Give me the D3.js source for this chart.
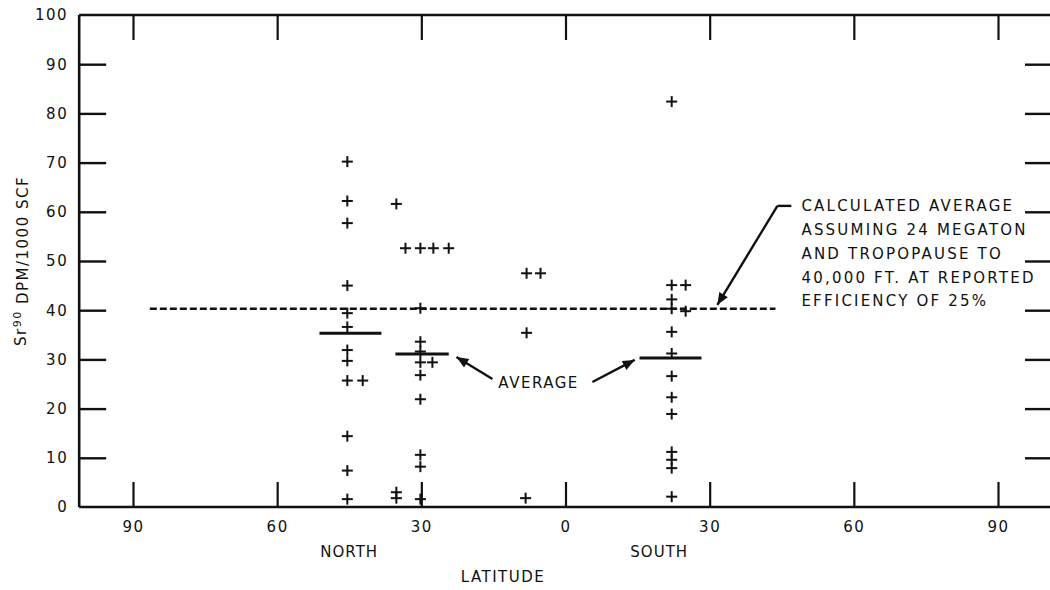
<!DOCTYPE html>
<html>
<head>
<meta charset="utf-8">
<script src="https://cdn.jsdelivr.net/npm/d3@7"></script>
<style>
  html, body { margin: 0; padding: 0; background: #fff; }
  svg { display: block; }
  text { font-family: "DejaVu Sans", sans-serif; fill: #111; }
</style>
</head>
<body>
<svg id="chart" width="1050" height="590"></svg>
<script>
// ---- data ----
// latitude: north positive, south negative
const pointLat = [
  45.4, 45.4, 45.4, 45.4, 45.4, 45.4, 45.4, 45.4, 45.4, 45.4, 45.4, 45.4, 42.2,
  35.2, 35.2, 35.2,
  33.3, 30.2, 27.5, 24.3,
  30.2, 30.2, 30.2, 30.2, 30.2, 30.2, 30.2, 30.2, 30.2, 27.7,
  8.1, 5.2, 8.1, 8.3,
  -22.1, -22.1, -22.1, -22.1, -22.1, -22.1, -22.1, -22.1, -22.1, -22.1, -22.1, -22.1, -22.1, -25.0, -25.0
];
const pointValue = [
  70.2, 62.2, 57.7, 45.0, 39.4, 36.6, 31.9, 29.7, 25.7, 14.4, 7.4, 1.6, 25.7,
  61.6, 3.0, 1.8,
  52.6, 52.6, 52.6, 52.6,
  40.4, 33.6, 31.6, 29.4, 26.8, 21.9, 10.6, 8.2, 1.6, 29.4,
  47.5, 47.5, 35.4, 1.8,
  82.4, 45.1, 42.2, 40.3, 35.6, 31.2, 26.6, 22.3, 18.9, 11.2, 9.6, 7.9, 2.1, 45.1, 39.8
];
// group averages (horizontal bars)
const avgFromLat = [51.2, 35.4, -15.4];
const avgToLat   = [38.3, 24.3, -28.3];
const avgValue   = [35.3, 31.1, 30.3];
// calculated average (dashed)
const calcFromLat = 86.5, calcToLat = -43.7, calcValue = 40.3;

const latTicks = [90, 60, 30, 0, -30, -60, -90];
const valueTicks = [0, 10, 20, 30, 40, 50, 60, 70, 80, 90, 100];
const calcText = [
  "CALCULATED AVERAGE",
  "ASSUMING 24 MEGATON",
  "AND TROPOPAUSE TO",
  "40,000 FT. AT REPORTED",
  "EFFICIENCY OF 25%"
];

// ---- scales ----
const svg = d3.select("#chart");
const x = d3.scaleLinear().domain([90, -90]).range([133, 998]);
const y = d3.scaleLinear().domain([0, 100]).range([507, 15]);
const xL = x(101.2), xR = 1050;

const ink = "#111";
const fs = "15px";

// frame: left, top, bottom
svg.append("line").attr("x1", xL).attr("x2", xL).attr("y1", y(100)).attr("y2", y(0))
  .attr("stroke", ink).attr("stroke-width", 2.6);
svg.append("line").attr("x1", xL).attr("x2", xR).attr("y1", y(100)).attr("y2", y(100))
  .attr("stroke", ink).attr("stroke-width", 2.4);
svg.append("line").attr("x1", xL).attr("x2", xR).attr("y1", y(0)).attr("y2", y(0))
  .attr("stroke", ink).attr("stroke-width", 2.6);

// bottom axis
const xAxis = d3.axisBottom(x).tickValues(latTicks).tickFormat(d => Math.abs(d))
  .tickSize(-25).tickPadding(14);
const gx = svg.append("g").attr("transform", `translate(0,${y(0)})`).call(xAxis);
gx.select(".domain").remove();
gx.selectAll(".tick line").attr("stroke", ink).attr("stroke-width", 2.2);
gx.selectAll(".tick text").style("font-size", fs).style("letter-spacing", "1.5px")
  .attr("fill", ink);

// top ticks
const xTop = d3.axisTop(x).tickValues(latTicks).tickFormat("").tickSize(-25);
const gt = svg.append("g").attr("transform", `translate(0,${y(100)})`).call(xTop);
gt.select(".domain").remove();
gt.selectAll(".tick line").attr("stroke", ink).attr("stroke-width", 2.2);

// left axis
const yAxis = d3.axisLeft(y).tickValues(valueTicks).tickSize(-27).tickPadding(11);
const gy = svg.append("g").attr("transform", `translate(${xL},0)`).call(yAxis);
gy.select(".domain").remove();
gy.selectAll(".tick line").attr("stroke", ink).attr("stroke-width", 2.4)
  .filter(d => d === 0 || d === 100).remove();
gy.selectAll(".tick text").style("font-size", fs).style("letter-spacing", "1.5px")
  .attr("fill", ink);

// right ticks
const yRight = d3.axisRight(y).tickValues(valueTicks.filter(d => d > 0 && d < 100))
  .tickFormat("").tickSize(-25);
const gr = svg.append("g").attr("transform", `translate(${xR},0)`).call(yRight);
gr.select(".domain").remove();
gr.selectAll(".tick line").attr("stroke", ink).attr("stroke-width", 2.4);

// calculated average dashed line
svg.append("line")
  .attr("x1", x(calcFromLat)).attr("x2", x(calcToLat))
  .attr("y1", y(calcValue)).attr("y2", y(calcValue))
  .attr("stroke", ink).attr("stroke-width", 2.4).attr("stroke-dasharray", "7,3");

// average bars
svg.selectAll(".avg").data(avgValue).enter().append("line")
  .attr("x1", (d, i) => x(avgFromLat[i])).attr("x2", (d, i) => x(avgToLat[i]))
  .attr("y1", d => y(d)).attr("y2", d => y(d))
  .attr("stroke", ink).attr("stroke-width", 3);

// points as plus marks
const pts = pointLat.map((lat, i) => ({ lat, v: pointValue[i] }));
const half = 5.5;
const pg = svg.selectAll(".pt").data(pts).enter().append("g")
  .attr("transform", d => `translate(${x(d.lat)},${y(d.v)})`);
pg.append("line").attr("x1", -half).attr("x2", half).attr("y1", 0).attr("y2", 0)
  .attr("stroke", ink).attr("stroke-width", 2);
pg.append("line").attr("x1", 0).attr("x2", 0).attr("y1", -half).attr("y2", half)
  .attr("stroke", ink).attr("stroke-width", 2);

// arrows
function arrow(x1, y1, x2, y2) {
  svg.append("line").attr("x1", x1).attr("y1", y1).attr("x2", x2).attr("y2", y2)
    .attr("stroke", ink).attr("stroke-width", 2.4);
  const ang = Math.atan2(y2 - y1, x2 - x1);
  const L = 12, W = 5;
  const bx = x2 - L * Math.cos(ang), by = y2 - L * Math.sin(ang);
  const px = -Math.sin(ang) * W, py = Math.cos(ang) * W;
  svg.append("path")
    .attr("d", `M${x2},${y2}L${bx + px},${by + py}L${bx - px},${by - py}Z`)
    .attr("fill", ink);
}
arrow(x(15.2), y(26.0), x(22.7), y(30.5));
arrow(x(-5.6), y(25.4), x(-14.4), y(29.9));

// leader for calculated average
svg.append("line").attr("x1", x(-47.0)).attr("x2", x(-44.1)).attr("y1", y(61.2)).attr("y2", y(61.2))
  .attr("stroke", ink).attr("stroke-width", 2.4);
arrow(x(-44.1), y(61.2), x(-31.6), y(41.1));

// AVERAGE label
svg.append("text").attr("x", x(5.6)).attr("y", y(25.2)).attr("dy", "0.36em")
  .attr("text-anchor", "middle").style("font-size", fs).style("letter-spacing", "1.5px")
  .text("AVERAGE");

// calculated text block
svg.selectAll(".calc").data(calcText).enter().append("text")
  .attr("x", x(-49.1)).attr("y", (d, i) => y(61.3) + i * 23.9).attr("dy", "0.36em")
  .style("font-size", fs).style("letter-spacing", "2.2px")
  .text(d => d);

// hemisphere labels and axis title
svg.append("text").attr("x", x(45)).attr("y", 552).attr("dy", "0.36em").attr("text-anchor", "middle")
  .style("font-size", fs).style("letter-spacing", "1px").text("NORTH");
svg.append("text").attr("x", x(-19.5)).attr("y", 552).attr("dy", "0.36em").attr("text-anchor", "middle")
  .style("font-size", fs).style("letter-spacing", "1px").text("SOUTH");
svg.append("text").attr("x", x(13)).attr("y", 577).attr("dy", "0.36em").attr("text-anchor", "middle")
  .style("font-size", fs).style("letter-spacing", "1.5px").text("LATITUDE");

// y title
const yt = svg.append("text").attr("transform", `translate(21,${y(50)}) rotate(-90)`)
  .attr("text-anchor", "middle").attr("dy", "0.36em")
  .style("font-size", fs).style("letter-spacing", "1.5px");
yt.append("tspan").text("Sr");
yt.append("tspan").attr("dy", "-0.45em").style("font-size", "11px").text("90");
yt.append("tspan").attr("dy", "0.45em").text(" DPM/1000 SCF");
</script>
</body>
</html>
